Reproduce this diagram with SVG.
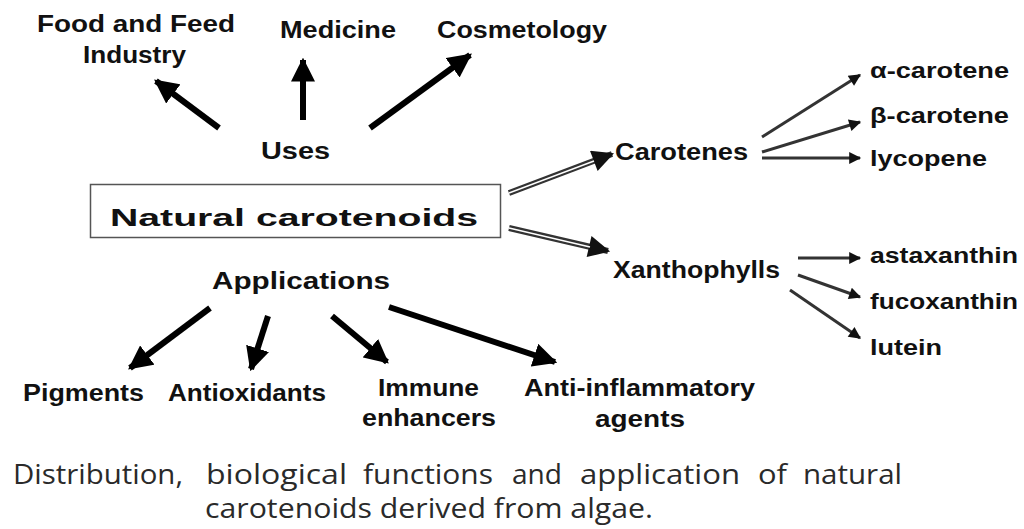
<svg xmlns="http://www.w3.org/2000/svg" width="1024" height="529" viewBox="0 0 1024 529">
<defs>
<style>
.t{font-family:"Liberation Sans",Arial,sans-serif;font-weight:bold;fill:#111;font-size:23px;}
.r{font-size:22px;}
.cap{font-family:"Open Sans","Liberation Sans",sans-serif;font-size:27px;fill:#2a2a2a;}
.thick{stroke:#000;stroke-width:6;fill:none;}
.thin{stroke:#333;stroke-width:3;fill:none;}
.dbl{stroke:#333;stroke-width:6;fill:none;}
.dblc{stroke:#fff;stroke-width:1.4;fill:none;}
</style>
<marker id="hb" viewBox="0 0 10 10" refX="9" refY="5" markerWidth="4" markerHeight="4" orient="auto" markerUnits="strokeWidth"><path d="M0,0 L10,5 L0,10 z" fill="#000"/></marker>
<marker id="hs" viewBox="0 0 10 10" refX="9" refY="5" markerWidth="5" markerHeight="4" orient="auto" markerUnits="strokeWidth"><path d="M0,0 L10,5 L0,10 z" fill="#111"/></marker>
<marker id="hd" viewBox="0 0 10 10" refX="9" refY="5" markerWidth="4" markerHeight="3.6" orient="auto" markerUnits="strokeWidth"><path d="M0,0 L10,5 L0,10 z" fill="#111"/></marker>
</defs>
<rect width="1024" height="529" fill="#fff"/>
<g id="connectors">
<line class="thick" x1="219" y1="128" x2="156" y2="81" marker-end="url(#hb)"/>
<line class="thick" x1="303" y1="120" x2="303" y2="60" marker-end="url(#hb)"/>
<line class="thick" x1="370" y1="128" x2="470" y2="55" marker-end="url(#hb)"/>
<line class="thick" x1="210" y1="308" x2="130" y2="368" marker-end="url(#hb)"/>
<line class="thick" x1="268" y1="316" x2="251" y2="369" marker-end="url(#hb)"/>
<line class="thick" x1="332" y1="316" x2="387" y2="362" marker-end="url(#hb)"/>
<line class="thick" x1="389" y1="307" x2="555" y2="362" marker-end="url(#hb)"/>
<line class="dbl" x1="509" y1="193" x2="612" y2="154" marker-end="url(#hd)"/>
<line class="dblc" x1="509" y1="193" x2="594" y2="161"/>
<line class="dbl" x1="509" y1="228" x2="608" y2="251" marker-end="url(#hd)"/>
<line class="dblc" x1="509" y1="228" x2="590" y2="247"/>
<line class="thin" x1="762" y1="137" x2="860" y2="75" marker-end="url(#hs)"/>
<line class="thin" x1="762" y1="152" x2="860" y2="122" marker-end="url(#hs)"/>
<line class="thin" x1="762" y1="158" x2="860" y2="158" marker-end="url(#hs)"/>
<line class="thin" x1="798" y1="258" x2="860" y2="258" marker-end="url(#hs)"/>
<line class="thin" x1="798" y1="275" x2="860" y2="297" marker-end="url(#hs)"/>
<line class="thin" x1="790" y1="290" x2="860" y2="338" marker-end="url(#hs)"/>
</g>
<g id="natural-carotenoids">
<rect x="90.5" y="184.5" width="410" height="53" fill="#fff" stroke="#555" stroke-width="1.5"/>
<text class="t" x="110" y="226" font-size="32" textLength="368" lengthAdjust="spacingAndGlyphs">Natural carotenoids</text>
</g>
<g id="uses"><text class="t" x="261" y="159" textLength="69" lengthAdjust="spacingAndGlyphs">Uses</text></g>
<g id="food"><text class="t" x="37" y="32" textLength="198" lengthAdjust="spacingAndGlyphs">Food and Feed</text><text class="t" x="83" y="63" textLength="103" lengthAdjust="spacingAndGlyphs">Industry</text></g>
<g id="medicine"><text class="t" x="280" y="38" textLength="116" lengthAdjust="spacingAndGlyphs">Medicine</text></g>
<g id="cosmetology"><text class="t" x="437" y="38" textLength="170" lengthAdjust="spacingAndGlyphs">Cosmetology</text></g>
<g id="applications"><text class="t" x="212" y="289" textLength="178" lengthAdjust="spacingAndGlyphs">Applications</text></g>
<g id="pigments"><text class="t" x="23" y="401" textLength="121" lengthAdjust="spacingAndGlyphs">Pigments</text></g>
<g id="antioxidants"><text class="t" x="168" y="401" textLength="158" lengthAdjust="spacingAndGlyphs">Antioxidants</text></g>
<g id="immune"><text class="t" x="378" y="396" textLength="101" lengthAdjust="spacingAndGlyphs">Immune</text><text class="t" x="362" y="426" textLength="134" lengthAdjust="spacingAndGlyphs">enhancers</text></g>
<g id="anti-inflammatory"><text class="t" x="524" y="396" textLength="231" lengthAdjust="spacingAndGlyphs">Anti-inflammatory</text><text class="t" x="595" y="427" textLength="90" lengthAdjust="spacingAndGlyphs">agents</text></g>
<g id="carotenes"><text class="t" x="615" y="160" textLength="133" lengthAdjust="spacingAndGlyphs">Carotenes</text></g>
<g id="xanthophylls"><text class="t" x="613" y="278" textLength="167" lengthAdjust="spacingAndGlyphs">Xanthophylls</text></g>
<g id="alpha"><text class="t r" x="870" y="78" textLength="139" lengthAdjust="spacingAndGlyphs">α-carotene</text></g>
<g id="beta"><text class="t r" x="870" y="123" textLength="139" lengthAdjust="spacingAndGlyphs">β-carotene</text></g>
<g id="lycopene"><text class="t r" x="870" y="166" textLength="117" lengthAdjust="spacingAndGlyphs">lycopene</text></g>
<g id="astaxanthin"><text class="t r" x="870" y="263" textLength="148" lengthAdjust="spacingAndGlyphs">astaxanthin</text></g>
<g id="fucoxanthin"><text class="t r" x="870" y="309" textLength="148" lengthAdjust="spacingAndGlyphs">fucoxanthin</text></g>
<g id="lutein"><text class="t r" x="870" y="355" textLength="72" lengthAdjust="spacingAndGlyphs">lutein</text></g>
<g id="caption">
<text class="cap" x="13" y="484" textLength="170" lengthAdjust="spacingAndGlyphs">Distribution,</text>
<text class="cap" x="206" y="484" textLength="141" lengthAdjust="spacingAndGlyphs">biological</text>
<text class="cap" x="363" y="484" textLength="130" lengthAdjust="spacingAndGlyphs">functions</text>
<text class="cap" x="512" y="484" textLength="50" lengthAdjust="spacingAndGlyphs">and</text>
<text class="cap" x="580" y="484" textLength="160" lengthAdjust="spacingAndGlyphs">application</text>
<text class="cap" x="758" y="484" textLength="29" lengthAdjust="spacingAndGlyphs">of</text>
<text class="cap" x="803" y="484" textLength="99" lengthAdjust="spacingAndGlyphs">natural</text>
<text class="cap" x="205" y="518" textLength="448" lengthAdjust="spacingAndGlyphs">carotenoids derived from algae.</text>
</g>
</svg>
